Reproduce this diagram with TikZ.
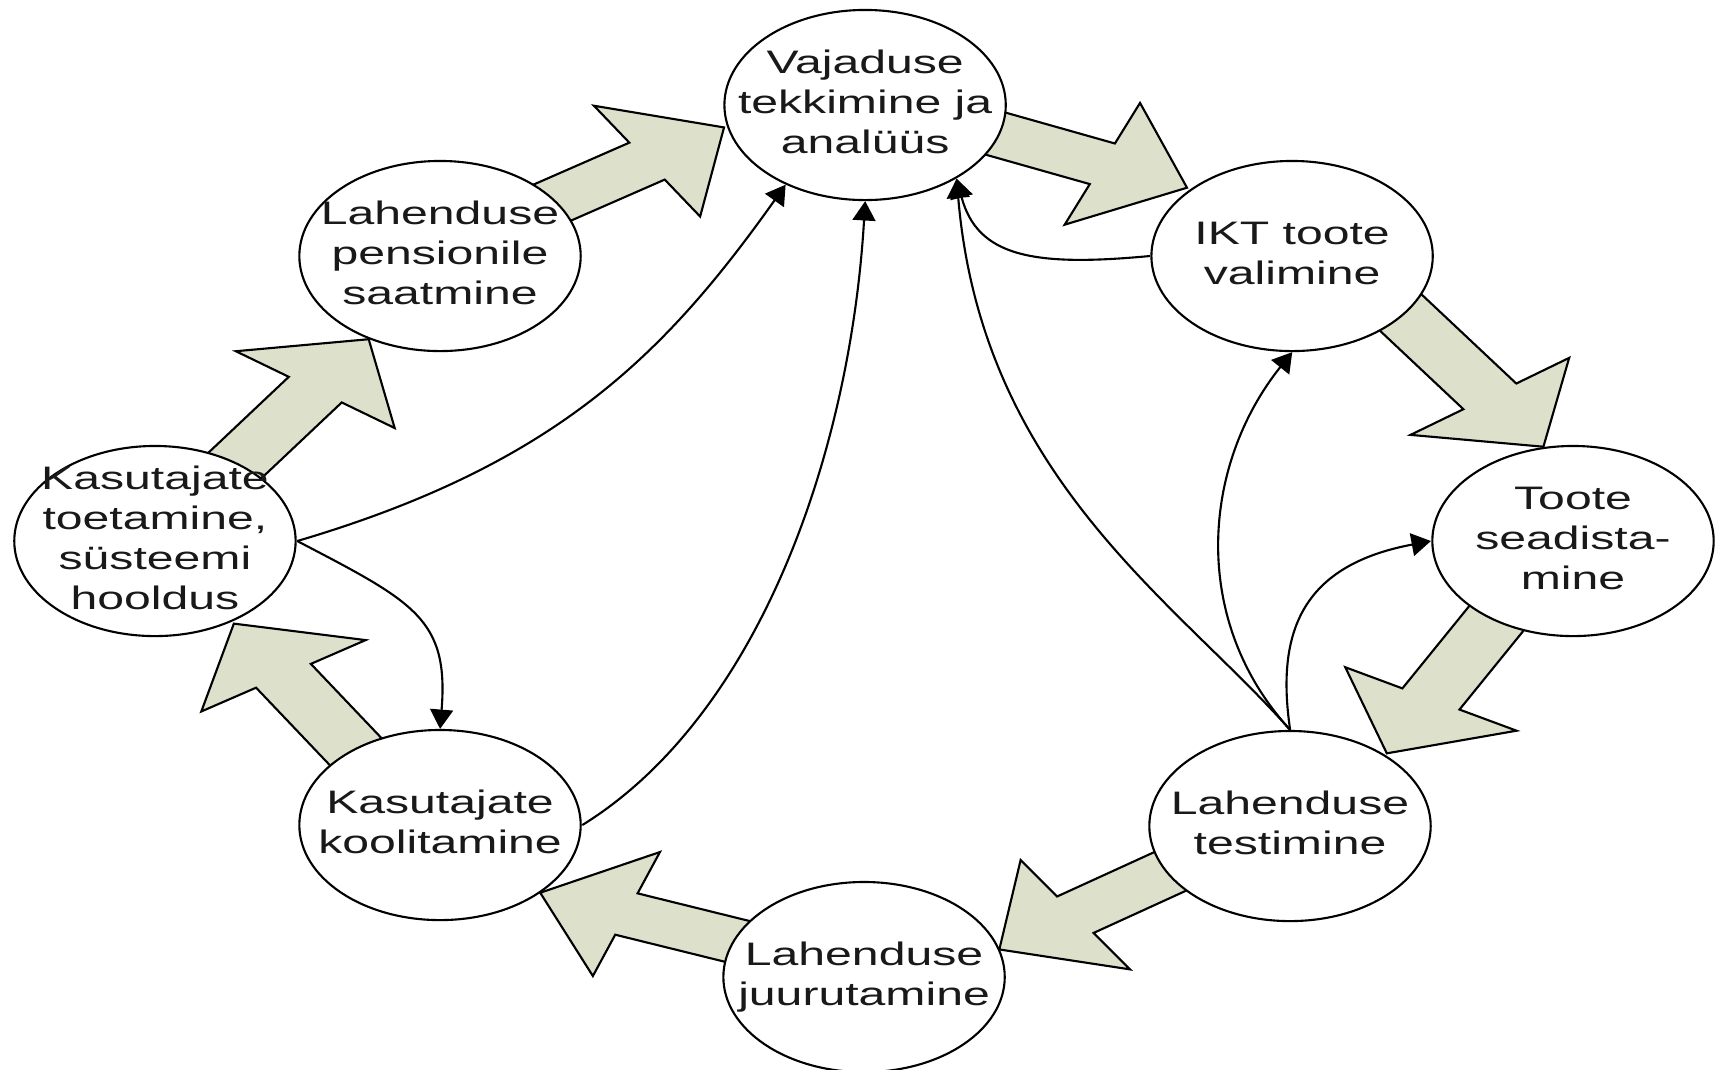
\documentclass[tikz,border=0pt]{standalone}
\usepackage{fontspec}
\setmainfont{Liberation Sans}
\usetikzlibrary{arrows.meta}
\definecolor{arrowgreen}{RGB}{221,224,202}

\newcommand\ringtext[1]{\makebox[0pt]{\raisebox{-2.4pt}[0pt][0pt]{\begin{tabular}{@{}c@{}}#1\end{tabular}}}}

\newcommand\bigarrow[4]{%
  \pgfmathsetmacro\arlen{veclen(#3-#1,#4-#2)}%
  \pgfmathsetmacro\arux{(#3-#1)/\arlen}%
  \pgfmathsetmacro\aruy{(#4-#2)/\arlen}%
  \pgfmathsetmacro\arbx{#1-30*(\arux)}%
  \pgfmathsetmacro\arby{#2-30*(\aruy)}%
  \pgfmathsetmacro\arnx{#3-62*(\arux)}%
  \pgfmathsetmacro\arny{#4-62*(\aruy)}%
  \draw[bigarrow] ({\arbx-22*(\aruy)},{\arby+22*(\arux)}) -- ({\arnx-22*(\aruy)},{\arny+22*(\arux)})
    -- ({\arnx-66*(\aruy)},{\arny+66*(\arux)}) -- (#3,#4) -- ({\arnx+66*(\aruy)},{\arny-66*(\arux)})
    -- ({\arnx+22*(\aruy)},{\arny-22*(\arux)}) -- ({\arbx+22*(\aruy)},{\arby-22*(\arux)}) -- cycle;}

\begin{document}
\begin{tikzpicture}[xscale=1.48, x=0.01cm, y=-0.01cm, transform shape, line width=0.6pt,
    stage/.style={circle, draw, fill=white, minimum size=1.9cm, inner sep=0pt,
      font=\fontsize{9.25pt}{11.4pt}\selectfont, text=black!90},
    bigarrow/.style={draw, fill=arrowgreen, line join=miter},
    link/.style={-{Triangle[length=5.5pt,width=6.5pt]}}]
  \useasboundingbox (0,0) rectangle (1160.1,1069);
  \foreach \sx/\sy/\tx/\ty in {673.6/134/802/187.7, 947.6/314.2/1042.8/446.7,
      1010.1/620/937/753.3, 787/873.8/675.2/949.4, 496.6/940.8/365/892.7,
      238.3/748.5/158/623.6, 162.2/460.6/249.1/339.2, 376.2/200.6/489.2/127.4}
    {\bigarrow{\sx}{\sy}{\tx}{\ty}}
  \node[stage] (vaj) at (584.5,105) {\ringtext{Vajaduse\\tekkimine ja\\analüüs}};
  \node[stage] (ikt) at (873,256) {\ringtext{IKT toote\\valimine}};
  \node[stage] (toote) at (1062.8,541) {\ringtext{Toote\\seadista-\\mine}};
  \node[stage] (test) at (871.6,826) {\ringtext{Lahenduse\\testimine}};
  \node[stage] (juur) at (583.8,977) {\ringtext{Lahenduse\\juurutamine}};
  \node[stage] (kool) at (297.3,825) {\ringtext{Kasutajate\\koolitamine}};
  \node[stage] (toet) at (104.7,541) {\ringtext{Kasutajate\\toetamine,\\süsteemi\\hooldus}};
  \node[stage] (pens) at (297.3,256) {\ringtext{Lahenduse\\pensionile\\saatmine}};
  \draw[link] (toet.east) .. controls +(174,-76) and +(-82,171) .. (vaj.236);
  \draw[link] (toet.east) .. controls +(79,61) and +(6,-110) .. (kool.north);
  \draw[link] (kool.east) .. controls +(120,-110) and +(-10,250) .. (vaj.south);
  \draw[link] (ikt.west) .. controls +(-79,11) and +(14,78) .. (vaj.310);
  \draw[link] (test.north) .. controls +(-77,-129) and +(17,299) .. (vaj.310);
  \draw[link] (test.north) .. controls +(-68,-110) and +(-61,113) .. (ikt.south);
  \draw[link] (test.north) .. controls +(-10,-100) and +(-86,24) .. (toote.west);
\end{tikzpicture}
\end{document}
